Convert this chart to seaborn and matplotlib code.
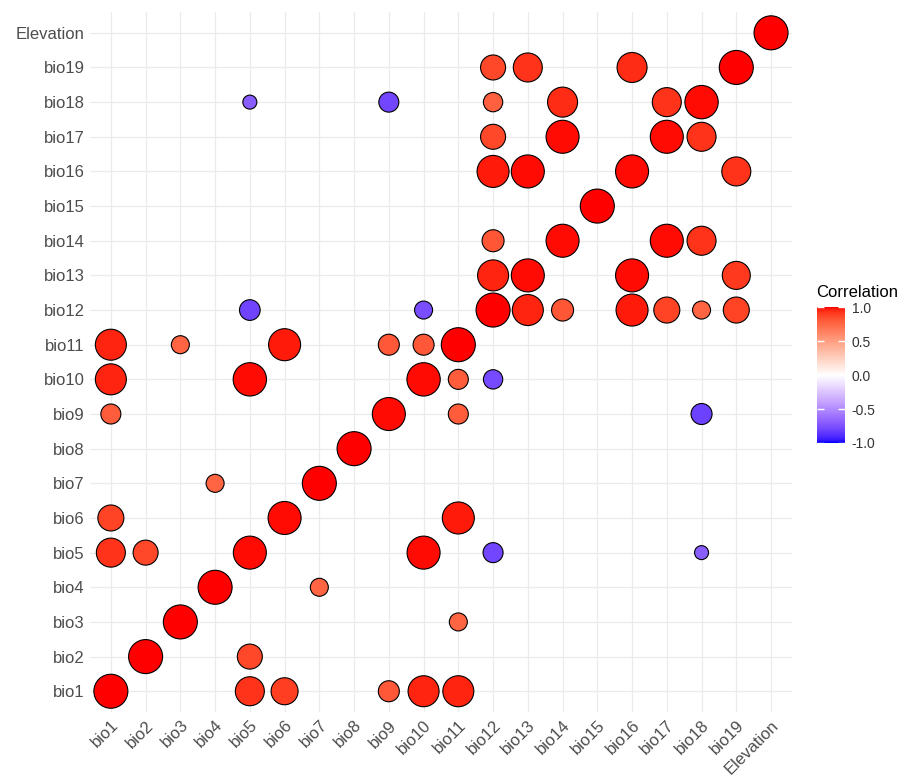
import numpy as np
import pandas as pd
import seaborn as sns
import matplotlib
matplotlib.use('Agg')
import matplotlib.pyplot as plt
from matplotlib.colors import ListedColormap, Normalize
from matplotlib.cm import ScalarMappable


variables = [f'bio{i}' for i in range(1, 20)] + ['Elevation']

# (column variable, row variable, correlation)
var_x = [
    'Elevation',
    'bio12', 'bio13', 'bio16', 'bio19',
    'bio5', 'bio9', 'bio12', 'bio14', 'bio17', 'bio18',
    'bio12', 'bio14', 'bio17', 'bio18',
    'bio12', 'bio13', 'bio16', 'bio19',
    'bio15',
    'bio12', 'bio14', 'bio17', 'bio18',
    'bio12', 'bio13', 'bio16', 'bio19',
    'bio5', 'bio10', 'bio12', 'bio13', 'bio14', 'bio16', 'bio17', 'bio18', 'bio19',
    'bio1', 'bio3', 'bio6', 'bio9', 'bio10', 'bio11',
    'bio1', 'bio5', 'bio10', 'bio11', 'bio12',
    'bio1', 'bio9', 'bio11', 'bio18',
    'bio8',
    'bio4', 'bio7',
    'bio1', 'bio6', 'bio11',
    'bio1', 'bio2', 'bio5', 'bio10', 'bio12', 'bio18',
    'bio4', 'bio7',
    'bio3', 'bio11',
    'bio2', 'bio5',
    'bio1', 'bio5', 'bio6', 'bio9', 'bio10', 'bio11',
]
var_y = (
    ['Elevation'] * 1 + ['bio19'] * 4 + ['bio18'] * 6 + ['bio17'] * 4
    + ['bio16'] * 4 + ['bio15'] * 1 + ['bio14'] * 4 + ['bio13'] * 4
    + ['bio12'] * 9 + ['bio11'] * 6 + ['bio10'] * 5 + ['bio9'] * 4
    + ['bio8'] * 1 + ['bio7'] * 2 + ['bio6'] * 3 + ['bio5'] * 6
    + ['bio4'] * 2 + ['bio3'] * 2 + ['bio2'] * 2 + ['bio1'] * 6
)
corr = [
    1.0,
    0.865, 0.925, 0.94, 1.0,
    -0.70, -0.79, 0.78, 0.94, 0.925, 0.99,
    0.865, 0.985, 0.985, 0.925,
    0.97, 0.985, 0.985, 0.925,
    1.0,
    0.82, 0.985, 0.985, 0.925,
    0.955, 0.985, 0.985, 0.91,
    -0.80, -0.76, 1.0, 0.955, 0.82, 0.97, 0.88, 0.76, 0.88,
    0.955, 0.76, 0.97, 0.805, 0.805, 1.0,
    0.955, 0.99, 0.99, 0.79, -0.78,
    0.79, 0.985, 0.79, -0.805,
    1.0,
    0.76, 1.0,
    0.88, 0.985, 0.97,
    0.925, 0.865, 0.985, 0.985, -0.79, -0.70,
    1.0, 0.76,
    1.0, 0.76,
    1.0, 0.865,
    1.0, 0.925, 0.895, 0.805, 0.955, 0.955,
]


def srgb_to_lab(rgb):
    c = np.asarray(rgb, dtype=float)
    lin = np.where(c <= 0.04045, c / 12.92, ((c + 0.055) / 1.055) ** 2.4)
    m = np.array([[0.4124, 0.3576, 0.1805],
                  [0.2126, 0.7152, 0.0722],
                  [0.0193, 0.1192, 0.9505]])
    xyz = m @ lin / np.array([0.95047, 1.0, 1.08883])
    f = np.where(xyz > 0.008856, np.cbrt(xyz), 7.787 * xyz + 16 / 116)
    return np.array([116 * f[1] - 16, 500 * (f[0] - f[1]), 200 * (f[1] - f[2])])


def lab_to_srgb(lab):
    L, a, b = lab
    fy = (L + 16) / 116
    fx = fy + a / 500
    fz = fy - b / 200
    f = np.array([fx, fy, fz])
    xyz = np.where(f ** 3 > 0.008856, f ** 3, (f - 16 / 116) / 7.787)
    xyz = xyz * np.array([0.95047, 1.0, 1.08883])
    m = np.array([[3.2406, -1.5372, -0.4986],
                  [-0.9689, 1.8758, 0.0415],
                  [0.0557, -0.2040, 1.0570]])
    lin = np.clip(m @ xyz, 0, 1)
    c = np.where(lin <= 0.0031308, 12.92 * lin, 1.055 * lin ** (1 / 2.4) - 0.055)
    return np.clip(c, 0, 1)


# blue - white - red gradient interpolated in Lab, like scale_fill_gradient2
lab_low = srgb_to_lab([0, 0, 1])
lab_mid = srgb_to_lab([1, 1, 1])
lab_high = srgb_to_lab([1, 0, 0])
colors = []
for t in np.linspace(-1, 1, 256):
    if t < 0:
        lab = lab_mid + (lab_low - lab_mid) * (-t)
    else:
        lab = lab_mid + (lab_high - lab_mid) * t
    colors.append(lab_to_srgb(lab))
cmap = ListedColormap(colors)

data = pd.DataFrame({'x': var_x, 'y': var_y, 'r': corr})
data['xi'] = data['x'].map(variables.index)
data['yi'] = data['y'].map(variables.index)

# diameter grows with |r| (px), converted to points^2 for scatter
dpi = 100
diam_px = 14 + (data['r'].abs() - 0.7) / 0.3 * 20
sizes = (diam_px * 72 / dpi) ** 2

plt.rcParams['font.family'] = ['Liberation Sans', 'DejaVu Sans']
fig = plt.figure(figsize=(9.01, 7.81), dpi=dpi)
ax = fig.add_axes([0.0999, 0.0883, 0.779, 0.8963])

sns.scatterplot(data=data, x='xi', y='yi', hue='r', palette=cmap,
                hue_norm=(-1, 1), s=sizes, edgecolor='black',
                linewidth=0.8, legend=False, ax=ax, zorder=3)

n = len(variables)
ax.set_xlim(-0.6, n - 1 + 0.6)
ax.set_ylim(-0.6, n - 1 + 0.6)
ax.set_xticks(range(n))
ax.set_yticks(range(n))
ax.set_xticklabels(variables, rotation=45, ha='right', rotation_mode='anchor')
ax.set_yticklabels(variables)
ax.tick_params(length=0, labelsize=12, labelcolor='#4D4D4D', pad=4)
ax.set_xlabel('')
ax.set_ylabel('')
ax.grid(True, color='#EBEBEB', linewidth=0.9, zorder=0)
ax.set_axisbelow(True)
for spine in ax.spines.values():
    spine.set_visible(False)

# colour bar legend
cax = fig.add_axes([0.9067, 0.4328, 0.031, 0.174])
sm = ScalarMappable(norm=Normalize(-1, 1), cmap=cmap)
cb = fig.colorbar(sm, cax=cax, ticks=[-1, -0.5, 0, 0.5, 1])
cb.outline.set_visible(False)
cb.ax.set_yticklabels(['-1.0', '-0.5', '0.0', '0.5', '1.0'])
cb.ax.yaxis.set_ticks_position('both')
cb.ax.tick_params(direction='in', length=5, color='white', width=1.0,
                  labelsize=10, labelcolor='#333333', pad=5, labelleft=False)
fig.text(0.906, 0.626, 'Correlation', fontsize=12, color='black',
         ha='left', va='center')

fig.savefig('out.png', dpi=dpi)
